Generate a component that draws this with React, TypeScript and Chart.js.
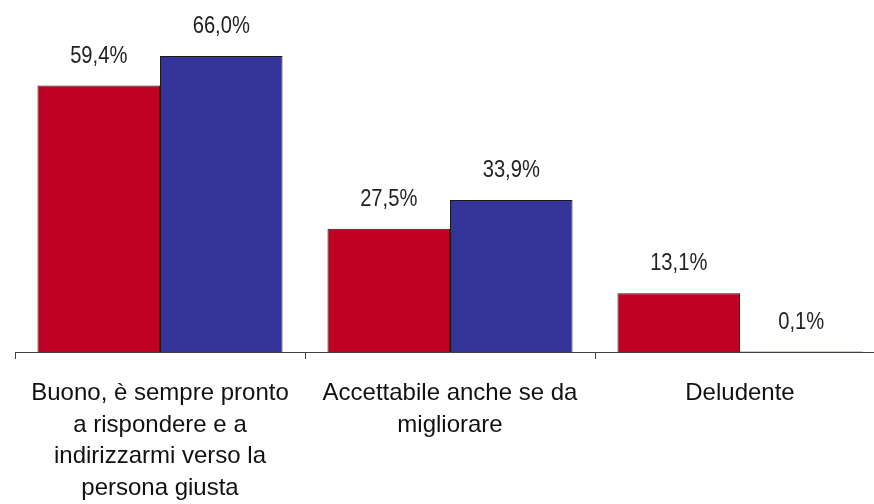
import React, { useEffect, useRef } from "react";
import { Chart, registerables } from "chart.js";

Chart.register(...registerables);

const categories: string[][] = [
  ["Buono, è sempre pronto", "a rispondere e a", "indirizzarmi verso la", "persona giusta"],
  ["Accettabile anche se da", "migliorare"],
  ["Deludente"],
];
const seriesRed: number[] = [59.4, 27.5, 13.1];
const seriesBlue: number[] = [66.0, 33.9, 0.1];

const fmt = (v: number) => v.toFixed(1).replace(".", ",") + "%";

const valueLabels = {
  id: "valueLabels",
  afterDatasetsDraw(chart: any) {
    const ctx = chart.ctx;
    chart.data.datasets.forEach((ds: any, i: number) => {
      const meta = chart.getDatasetMeta(i);
      meta.data.forEach((bar: any, j: number) => {
        ctx.save();
        ctx.font = '24px "Liberation Sans", Arial, sans-serif';
        ctx.fillStyle = "#222";
        ctx.textAlign = "center";
        ctx.textBaseline = "alphabetic";
        ctx.translate(bar.x, bar.y - 23);
        ctx.scale(0.84, 1);
        ctx.fillText(fmt(ds.data[j]), 0, 0);
        ctx.restore();
      });
    });
  },
};

export default function App() {
  const ref = useRef<HTMLCanvasElement>(null);
  useEffect(() => {
    if (!ref.current) return;
    const chart = new Chart(ref.current, {
      type: "bar",
      data: {
        labels: categories,
        datasets: [
          {
            data: seriesRed,
            backgroundColor: "#C00025",
            borderColor: "#1a1a1a",
            borderWidth: 1,
            categoryPercentage: 0.845,
            barPercentage: 1,
          },
          {
            data: seriesBlue,
            backgroundColor: "#333399",
            borderColor: "#1a1a1a",
            borderWidth: 1,
            categoryPercentage: 0.845,
            barPercentage: 1,
          },
        ],
      },
      options: {
        responsive: false,
        animation: false,
        layout: { padding: { top: 38, left: 15, right: 15, bottom: 0 } },
        plugins: { legend: { display: false }, tooltip: { enabled: false } },
        scales: {
          y: { display: false, min: 0, max: 70 },
          x: {
            afterFit: (scale: any) => {
              scale.height = 152;
            },
            grid: {
              display: true,
              drawOnChartArea: false,
              drawTicks: true,
              tickLength: 7,
              color: "#404040",
              offset: true,
            },
            border: { display: true, color: "#404040", width: 1 },
            ticks: {
              padding: 19,
              maxRotation: 0,
              autoSkip: false,
              color: "#111",
              font: { family: '"Liberation Sans", Arial, sans-serif', size: 24, lineHeight: 1.3125 },
            },
          },
        },
      },
      plugins: [valueLabels],
    });
    return () => chart.destroy();
  }, []);
  return (
    <div style={{ position: "fixed", left: 0, top: 0, width: 874, height: 504, overflow: "hidden", background: "#fff" }}>
      <canvas ref={ref} width={900} height={504} style={{ position: "absolute", left: 0, top: 0 }} />
    </div>
  );
}
